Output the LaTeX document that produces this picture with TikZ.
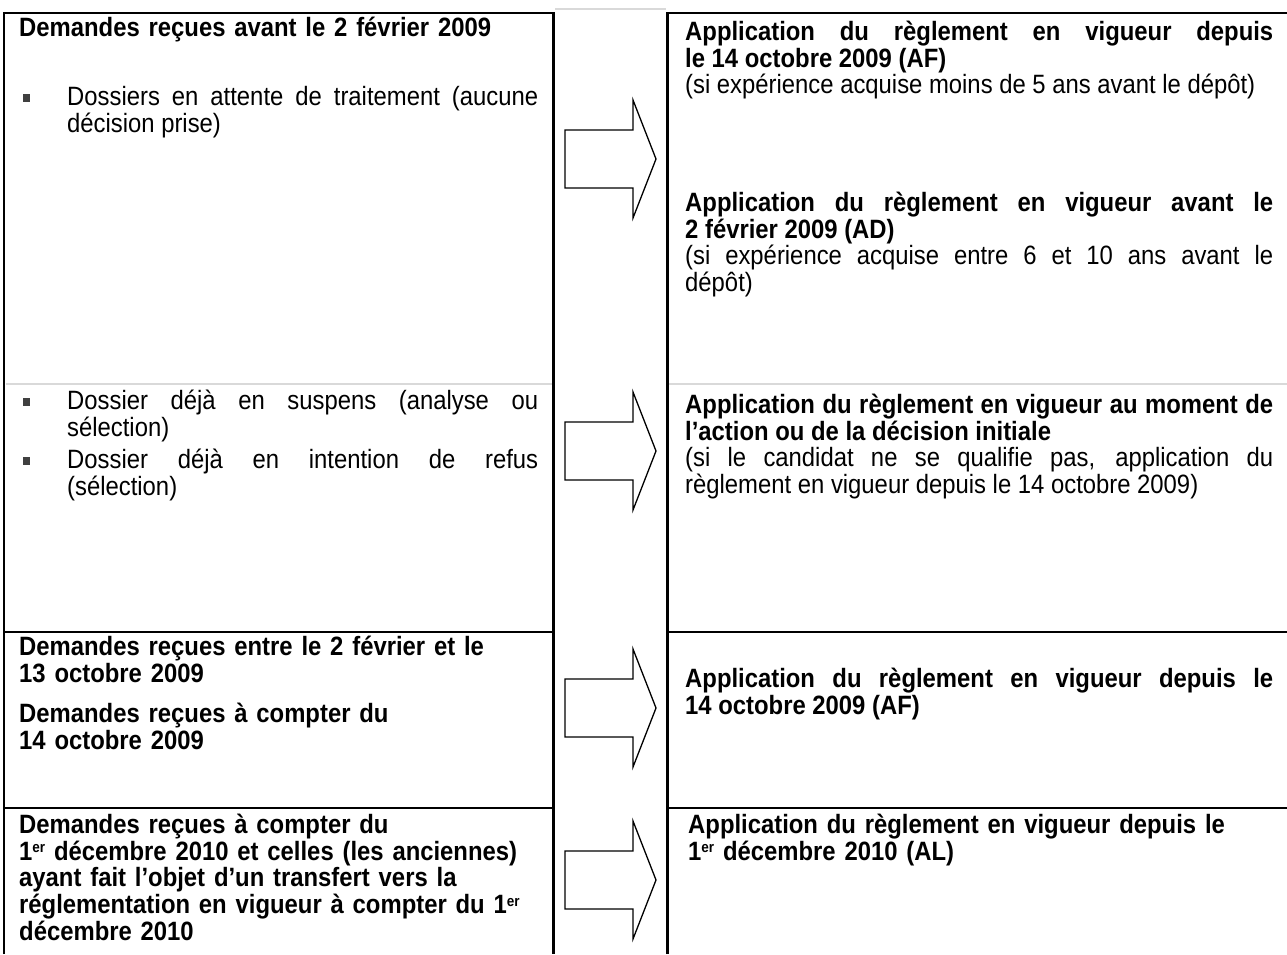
\documentclass[tikz,border=0pt]{standalone}
\usepackage{fontspec}
\setmainfont{Liberation Sans}[FakeStretch=0.9]
\definecolor{lightrule}{HTML}{D9D9D9}
\definecolor{bulletgray}{HTML}{404040}
\setlength{\parindent}{0pt}
\tolerance=10000
\hyphenpenalty=10000
\exhyphenpenalty=10000
\lineskiplimit=-100pt
\newcommand\topstrut{\rule{0pt}{22pt}}
\newcommand\supx[1]{\raisebox{7.5pt}{\fontsize{15}{15}\selectfont #1}}
\newcommand\sqbullet{\leavevmode\llap{\textcolor{bulletgray}{\rule[3.5pt]{7pt}{7.5pt}}\hspace{37.5pt}}}
\begin{document}
\begin{tikzpicture}[x=1pt, y=-1pt,
    rule/.style={line width=2.6pt},
    softrule/.style={line width=1.8pt, draw=lightrule},
    txt/.style={anchor=north west, inner sep=0pt, font=\fontsize{26.5}{26.8}\selectfont},
    justtxt/.style={txt, align=justify},
    lefttxt/.style={txt, align=left},
    blockarrow/.style={draw, line width=1.3pt, fill=white, line join=miter}]
    \useasboundingbox (0,0) rectangle (1287,954);
    \draw[rule] (4,954) -- (4,13) -- (553.5,13) -- (553.5,954);
    \draw[rule] (667.5,954) -- (667.5,13) -- (1287,13);
    \draw[softrule] (555,9) -- (666,9);
    \draw[softrule] (5.5,384) -- (552,384);
    \draw[softrule] (669,384) -- (1287,384);
    \draw[rule] (4,632) -- (553.5,632);
    \draw[rule] (667.5,632) -- (1287,632);
    \draw[rule] (4,808) -- (553.5,808);
    \draw[rule] (667.5,808) -- (1287,808);

    \node[lefttxt, text width=530] (avant) at (19,14) {\topstrut\bfseries Demandes reçues avant le 2 février 2009};
    \node[justtxt, text width=471] (attente) at (67,83) {\sqbullet\topstrut Dossiers en attente de traitement (aucune\linebreak décision prise)};
    \node[justtxt, text width=588] (regAF) at (685,18) {\topstrut\textbf{Application du règlement en vigueur depuis\linebreak le 14 octobre 2009 (AF)}\par (si expérience acquise moins de 5 ans avant le dépôt)};
    \node[justtxt, text width=588] (regAD) at (685,189) {\topstrut\textbf{Application du règlement en vigueur avant le\linebreak 2 février 2009 (AD)}\par (si expérience acquise entre 6 et 10 ans avant le\linebreak dépôt)};

    \node[justtxt, text width=471] (suspens) at (67,387) {\sqbullet\topstrut Dossier déjà en suspens (analyse ou\linebreak sélection)};
    \node[justtxt, text width=471] (refus) at (67,446) {\sqbullet\topstrut Dossier déjà en intention de refus\linebreak (sélection)};
    \node[justtxt, text width=588] (regInit) at (685,391) {\topstrut\textbf{Application du règlement en vigueur au moment de\linebreak l’action ou de la décision initiale}\par (si le candidat ne se qualifie pas, application du\linebreak règlement en vigueur depuis le 14 octobre 2009)};

    \node[lefttxt, text width=530] (entre) at (19,633) {\topstrut\bfseries Demandes reçues entre le 2 février et le\\ 13 octobre 2009};
    \node[lefttxt, text width=530] (compter) at (19,700) {\topstrut\bfseries Demandes reçues à compter du\\ 14 octobre 2009};
    \node[justtxt, text width=588] (regAFbis) at (685,665) {\topstrut\bfseries Application du règlement en vigueur depuis le\linebreak 14 octobre 2009 (AF)};

    \node[lefttxt, text width=530] (transfert) at (19,811) {\topstrut\bfseries Demandes reçues à compter du\\ 1\supx{er} décembre 2010 et celles (les anciennes)\\ ayant fait l’objet d’un transfert vers la\\ réglementation en vigueur à compter du 1\supx{er}\\ décembre 2010};
    \node[lefttxt, text width=588] (regAL) at (688,811) {\topstrut\bfseries Application du règlement en vigueur depuis le\\ 1\supx{er} décembre 2010 (AL)};

    \foreach \n/\yc in {1/159, 2/451, 3/708, 4/880} {
        \coordinate (tip\n) at (656,\yc);
        \draw[blockarrow] (tip\n) -- ++(-23,-59) -- ++(0,30) -- ++(-68,0) -- ++(0,58) -- ++(68,0) -- ++(0,30) -- cycle;
    }
\end{tikzpicture}
\end{document}
